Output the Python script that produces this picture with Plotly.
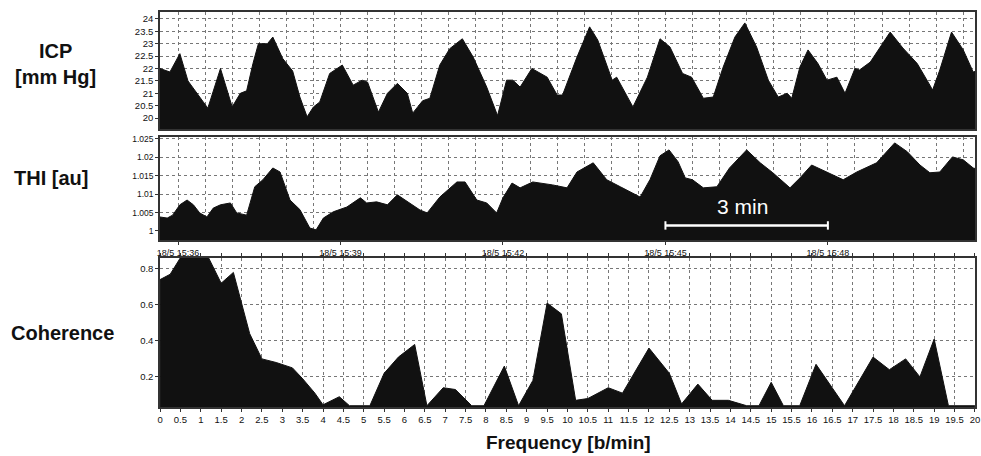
import pandas as pd
import plotly.graph_objects as go

# ---------------- data ----------------
# time offsets (seconds from 18/5 15:36:00) and ICP values [mm Hg]
icp_t = [-20, -9, 2, 11, 24, 33, 47, 60, 69, 76, 83, 89, 99, 105, 116, 127, 135, 143, 150, 157,
         168, 182, 194, 204, 210, 222, 232, 243, 254, 260, 271, 279, 290, 301, 315, 327, 342, 354, 364, 371,
         379, 392, 409, 420, 426, 442, 456, 465, 481, 486, 504, 520, 534, 545, 559, 569, 582, 593, 604, 617,
         628, 641, 654, 665, 675, 680, 689, 698, 709, 719, 730, 739, 750, 755, 767, 789, 803, 819, 833, 836,
         844, 857, 870, 881, 885]
icp = [22.0, 21.86, 22.6, 21.5, 20.85, 20.4, 22.0, 20.45, 21.0, 21.1, 22.2, 23.0, 23.0, 23.27, 22.4, 21.9, 20.85, 20.05, 20.45, 20.65,
       21.8, 22.14, 21.33, 21.53, 21.45, 20.24, 21.0, 21.4, 21.0, 20.2, 20.7, 20.8, 22.14, 22.8, 23.2, 22.46, 21.25, 20.1, 21.53, 21.53,
       21.25, 22.0, 21.65, 20.93, 20.93, 22.46, 23.68, 23.15, 21.53, 21.65, 20.45, 21.65, 23.2, 22.87, 21.8, 21.65, 20.8, 20.85, 22.06, 23.27,
       23.84, 22.87, 21.53, 20.85, 21.0, 20.8, 22.06, 22.75, 22.2, 21.53, 21.65, 21.0, 22.0, 21.94, 22.26, 23.47, 22.83, 22.2, 21.33, 21.13,
       21.94, 23.47, 22.75, 21.86, 21.9]

thi_t = [-20, -12, -6, 2, 10, 17, 24, 32, 39, 47, 58, 65, 76, 85, 94, 105, 113, 124, 135, 146,
         153, 161, 172, 187, 202, 209, 220, 232, 243, 254, 268, 276, 290, 309, 318, 331, 342, 353, 360, 370,
         379, 393, 415, 431, 442, 460, 475, 490, 504, 512, 523, 534, 544, 554, 562, 570, 582, 597, 611, 630,
         645, 659, 678, 689, 702, 719, 737, 752, 774, 794, 808, 822, 833, 844, 858, 870, 881, 885]
thi = [1.0038, 1.0035, 1.0043, 1.0071, 1.0084, 1.0071, 1.0049, 1.0038, 1.0062, 1.0071, 1.0076, 1.0049, 1.0043, 1.012, 1.0139, 1.0171, 1.016, 1.0084, 1.0058, 1.0008,
       1.0003, 1.0035, 1.0052, 1.0065, 1.009, 1.0076, 1.0079, 1.0071, 1.0098, 1.0079, 1.0057, 1.0049, 1.0092, 1.0133, 1.0133, 1.0084, 1.0076, 1.0049, 1.009, 1.013,
       1.0117, 1.0133, 1.0125, 1.0117, 1.016, 1.0185, 1.0139, 1.012, 1.0103, 1.0092, 1.014, 1.0204, 1.022, 1.0188, 1.0144, 1.0139, 1.0117, 1.012, 1.0171, 1.022,
       1.0185, 1.0158, 1.0117, 1.0144, 1.0179, 1.016, 1.0139, 1.016, 1.0185, 1.0239, 1.0215, 1.0179, 1.0158, 1.016, 1.0201, 1.0193, 1.0171, 1.0168]

freq = [0, 0.25, 0.55, 1.15, 1.5, 1.8, 2.2, 2.5, 2.85, 3.25, 3.5, 3.8, 4.0, 4.4, 4.65, 5.15, 5.5, 5.85, 6.25, 6.55,
        6.95, 7.25, 7.65, 7.95, 8.45, 8.8, 9.15, 9.5, 9.85, 10.2, 10.5, 11.0, 11.35, 12.0, 12.5, 12.8, 13.2, 13.55, 13.95, 14.4,
        14.7, 15.0, 15.3, 15.7, 16.1, 16.8, 17.5, 17.9, 18.3, 18.65, 19.0, 19.35, 20.0]
coh = [0.74, 0.77, 0.88, 0.88, 0.72, 0.78, 0.44, 0.30, 0.28, 0.25, 0.19, 0.11, 0.045, 0.09, 0.04, 0.04, 0.22, 0.31, 0.38, 0.04,
       0.14, 0.13, 0.04, 0.04, 0.26, 0.04, 0.18, 0.61, 0.55, 0.07, 0.08, 0.14, 0.11, 0.36, 0.22, 0.05, 0.16, 0.07, 0.07, 0.04,
       0.04, 0.17, 0.04, 0.04, 0.27, 0.04, 0.31, 0.24, 0.30, 0.20, 0.41, 0.04, 0.04]

freq_ticks = [i * 0.5 for i in range(41)]
freq_labels = [("%g" % v) for v in freq_ticks]

t0 = pd.Timestamp("2010-05-18 15:36:00")
icp_x = [t0 + pd.Timedelta(seconds=s) for s in icp_t]
thi_x = [t0 + pd.Timedelta(seconds=s) for s in thi_t]
t_range = [t0 + pd.Timedelta(seconds=-20), t0 + pd.Timedelta(seconds=883)]
bar_x = [t0 + pd.Timedelta(minutes=9), t0 + pd.Timedelta(minutes=12)]
bar_y = 1.0015

# ---------------- figure ----------------
W, H = 981, 456
FONT = "Arial, Liberation Sans, sans-serif"
fig = go.Figure()

fig.add_trace(go.Scatter(x=icp_x, y=icp, mode="lines", fill="tozeroy",
                         line=dict(color="#111", width=1), fillcolor="#111",
                         xaxis="x", yaxis="y", showlegend=False))
fig.add_trace(go.Scatter(x=thi_x, y=thi, mode="lines", fill="tozeroy",
                         line=dict(color="#111", width=1), fillcolor="#111",
                         xaxis="x2", yaxis="y2", showlegend=False))
fig.add_trace(go.Scatter(x=freq, y=coh, mode="lines", fill="tozeroy",
                         line=dict(color="#111", width=1), fillcolor="#111",
                         xaxis="x3", yaxis="y3", showlegend=False))
# 3 min scale bar
fig.add_trace(go.Scatter(x=bar_x, y=[bar_y, bar_y], mode="lines+markers",
                         line=dict(color="white", width=2.5),
                         marker=dict(symbol="line-ns", size=6, line=dict(color="white", width=2)),
                         xaxis="x2", yaxis="y2", showlegend=False))

xd = [160 / W, 975 / W]
grid = dict(showgrid=True, gridcolor="#777", gridwidth=1, griddash="dot")
frame = dict(showline=True, linecolor="#333", linewidth=1.5, mirror=True, automargin=False)
tickf = dict(family=FONT, size=9.5, color="#111")

time_axis = dict(domain=xd, type="date", range=t_range, tick0=t0, dtick=180000,
                 minor=dict(dtick=30000, showgrid=True, gridcolor="#777", griddash="dot", ticks=""),
                 zeroline=False, **grid, **frame)

fig.update_layout(
    width=W, height=H, margin=dict(l=0, r=0, t=0, b=0),
    paper_bgcolor="white", plot_bgcolor="white",
    xaxis=dict(**time_axis, showticklabels=False, ticks=""),
    yaxis=dict(domain=[1 - 129 / H, 1 - 12 / H], range=[19.56, 24.28], dtick=0.5, tick0=20,
               ticks="outside", ticklen=3, tickcolor="#333", tickfont=tickf,
               zeroline=False, **grid, **frame),
    xaxis2=dict(**time_axis, showticklabels=True, ticks="outside", ticklen=3, tickcolor="#333",
                tickformat="%-d/%-m %H:%M", tickfont=dict(family=FONT, size=9, color="#111")),
    yaxis2=dict(domain=[1 - 240 / H, 1 - 137 / H], range=[0.99755, 1.0255], dtick=0.005, tick0=1,
                tickformat="~r", ticks="outside", ticklen=3, tickcolor="#333",
                tickfont=dict(family=FONT, size=8.5, color="#111"),
                zeroline=False, **grid, **frame),
    xaxis3=dict(domain=xd, range=[-0.001, 20.002], tickmode="array", tickvals=freq_ticks, ticktext=freq_labels,
                ticks="outside", ticklen=3, tickcolor="#333", tickfont=tickf, anchor="y3",
                ticklabeloverflow="allow", automargin=False,
                zeroline=False, showgrid=True, gridcolor="#777", griddash="dot",
                showline=True, linecolor="#333", linewidth=1.5, mirror="ticks"),
    yaxis3=dict(domain=[1 - 407 / H, 1 - 258 / H], range=[0.033, 0.86], tickvals=[0.2, 0.4, 0.6, 0.8],
                ticks="outside", ticklen=3, tickcolor="#333", tickfont=tickf, anchor="x3",
                zeroline=False, **grid, **frame),
)
fig.layout.xaxis.anchor = "y"
fig.layout.xaxis2.anchor = "y2"

ann = dict(xref="paper", yref="paper", showarrow=False, xanchor="center", yanchor="middle")
labf = dict(family=FONT, size=20, color="#111")
fig.add_annotation(x=55 / W, y=1 - 64 / H, text="<b>ICP<br>[mm Hg]</b>", font=labf, **ann)
fig.add_annotation(x=51 / W, y=1 - 178 / H, text="<b>THI [au]</b>", font=labf, **ann)
fig.add_annotation(x=62 / W, y=1 - 333 / H, text="<b>Coherence</b>", font=labf, **ann)
fig.add_annotation(x=568 / W, y=1 - 442 / H, text="<b>Frequency [b/min]</b>",
                   font=dict(family=FONT, size=19, color="#111"), **ann)
fig.add_annotation(x=t0 + pd.Timedelta(seconds=625), y=1.0066, xref="x2", yref="y2",
                   text="3 min", showarrow=False, font=dict(family=FONT, size=21, color="white"))

fig.write_html("out.html")
